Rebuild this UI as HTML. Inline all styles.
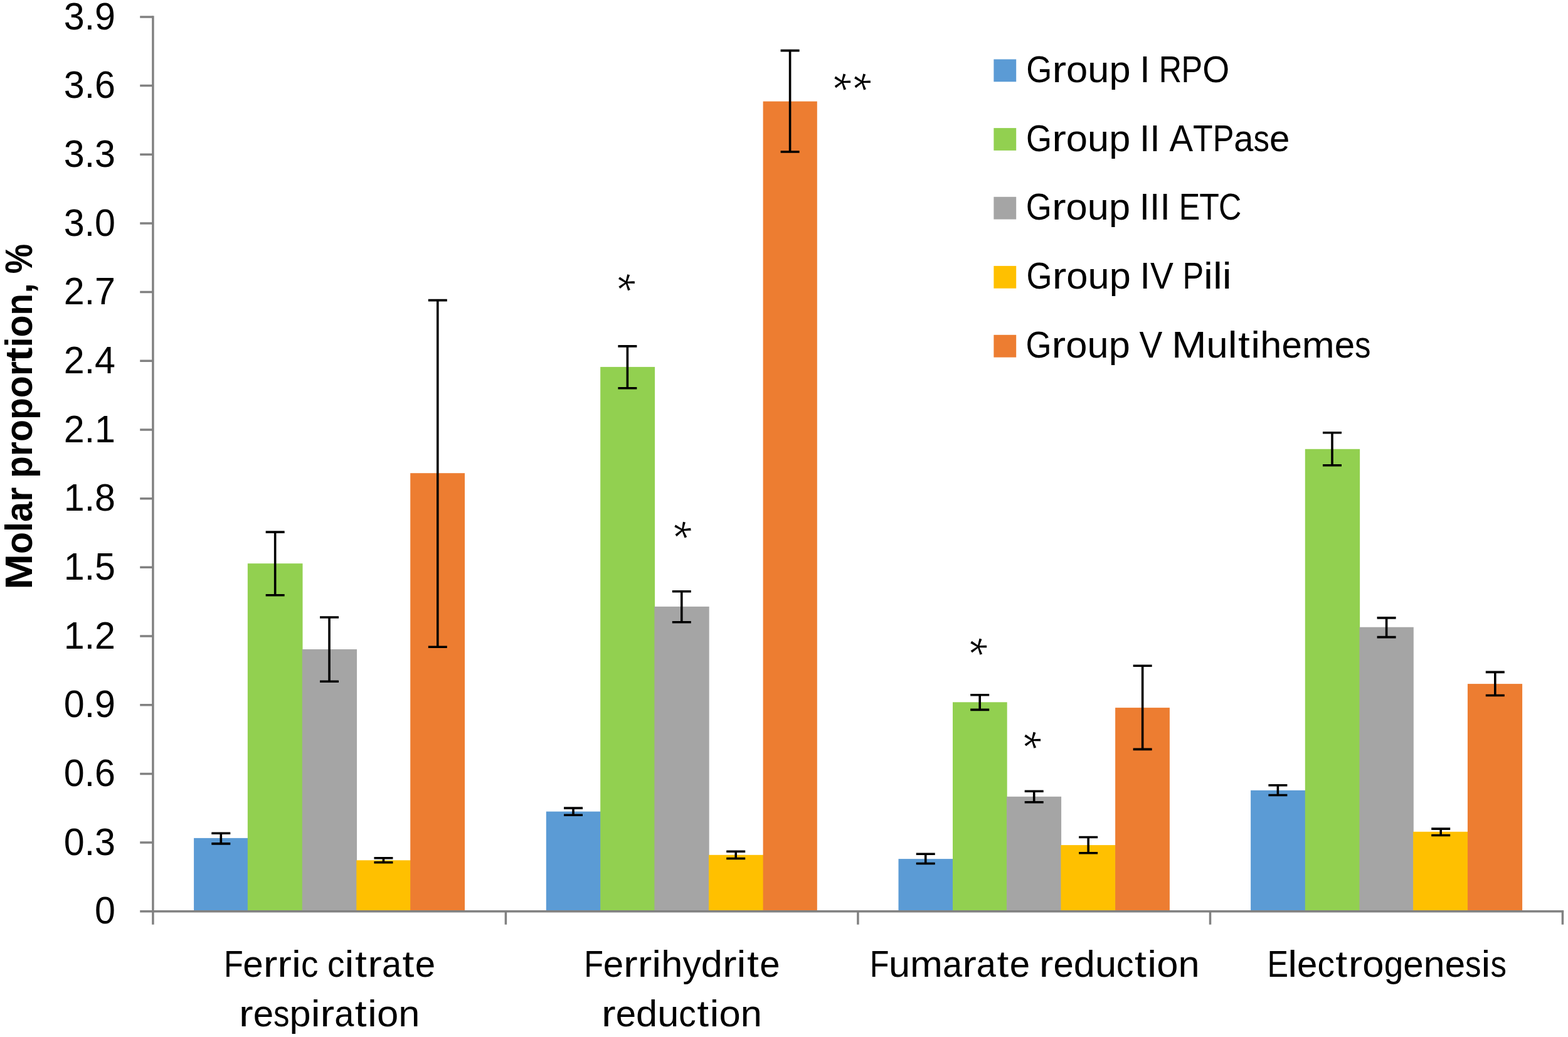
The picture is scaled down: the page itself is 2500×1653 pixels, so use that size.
<!DOCTYPE html>
<html lang="en">
<head>
<meta charset="utf-8">
<title>Molar proportion of protein groups</title>
<style>
html,body{margin:0;padding:0;background:#fff}
body{width:2500px;height:1653px}
svg{display:block}
text{font-family:"Liberation Sans",sans-serif;fill:#000}
.b{font-weight:bold}
.s{stroke:#fff;stroke-width:1.1px;paint-order:fill stroke}
</style>
</head>
<body>
<svg width="2500" height="1653" viewBox="0 0 2500 1653">
<rect width="2500" height="1653" fill="#fff"/>
<g id="bars">
<rect x="309.1" y="1335.9" width="86.45" height="116.85" fill="#5B9BD5"/>
<rect x="394.85" y="898.2" width="87.65" height="554.55" fill="#92D050"/>
<rect x="481.8" y="1035" width="87.2" height="417.75" fill="#A5A5A5"/>
<rect x="568.3" y="1371.3" width="86.6" height="81.45" fill="#FFC000"/>
<rect x="654.2" y="754.2" width="86.8" height="698.55" fill="#ED7D31"/>
<rect x="870.8" y="1293.6" width="87.1" height="159.15" fill="#5B9BD5"/>
<rect x="957.2" y="584.9" width="86.9" height="867.85" fill="#92D050"/>
<rect x="1043.4" y="966.9" width="87.3" height="485.85" fill="#A5A5A5"/>
<rect x="1130" y="1362.8" width="87.3" height="89.95" fill="#FFC000"/>
<rect x="1216.6" y="161.6" width="86.2" height="1291.15" fill="#ED7D31"/>
<rect x="1432.5" y="1369.1" width="87.2" height="83.65" fill="#5B9BD5"/>
<rect x="1519" y="1119.3" width="86.7" height="333.45" fill="#92D050"/>
<rect x="1605" y="1269.8" width="87.1" height="182.95" fill="#A5A5A5"/>
<rect x="1691.4" y="1347.1" width="87.45" height="105.65" fill="#FFC000"/>
<rect x="1778.15" y="1128.1" width="86.75" height="324.65" fill="#ED7D31"/>
<rect x="1994.1" y="1259.8" width="87.4" height="192.95" fill="#5B9BD5"/>
<rect x="2080.8" y="715.8" width="87.35" height="736.95" fill="#92D050"/>
<rect x="2167.45" y="999.7" width="86.35" height="453.05" fill="#A5A5A5"/>
<rect x="2253.1" y="1325.8" width="87.55" height="126.95" fill="#FFC000"/>
<rect x="2339.95" y="1090.1" width="87.15" height="362.65" fill="#ED7D31"/>
</g>
<g id="axes" stroke="#818181" stroke-width="3.5" fill="none">
<path d="M243.9 25.15V1473.8"/>
<path d="M223.2 1452.75H2493.15"/>
<path d="M223.2 26.9H243.9M223.2 136.58H243.9M223.2 246.26H243.9M223.2 355.94H243.9M223.2 465.62H243.9M223.2 575.3H243.9M223.2 684.98H243.9M223.2 794.67H243.9M223.2 904.35H243.9M223.2 1014.03H243.9M223.2 1123.71H243.9M223.2 1233.39H243.9M223.2 1343.07H243.9"/>
<path d="M806.4 1452.75V1473.8M1367.9 1452.75V1473.8M1929.5 1452.75V1473.8M2491.4 1452.75V1473.8"/>
</g>
<g id="errors" stroke="#000" stroke-width="3.6" fill="none">
<path d="M337.29 1328.3H367.29M337.29 1344.9H367.29M352.29 1328.3V1344.9"/>
<path d="M423.67 848.1H453.67M423.67 948.8H453.67M438.67 848.1V948.8"/>
<path d="M510.05 984H540.05M510.05 1086.3H540.05M525.05 984V1086.3"/>
<path d="M596.43 1367.7H626.43M596.43 1374.8H626.43M611.43 1367.7V1374.8"/>
<path d="M682.81 478.6H712.81M682.81 1031.3H712.81M697.81 478.6V1031.3"/>
<path d="M899 1288.1H929M899 1299.2H929M914 1288.1V1299.2"/>
<path d="M985.4 551.9H1015.4M985.4 618.8H1015.4M1000.4 551.9V618.8"/>
<path d="M1071.8 942.7H1101.8M1071.8 991.8H1101.8M1086.8 942.7V991.8"/>
<path d="M1158.2 1357.3H1188.2M1158.2 1368.5H1188.2M1173.2 1357.3V1368.5"/>
<path d="M1244.6 80.6H1274.6M1244.6 242H1274.6M1259.6 80.6V242"/>
<path d="M1460.74 1361.3H1490.74M1460.74 1376.5H1490.74M1475.74 1361.3V1376.5"/>
<path d="M1547.22 1107.8H1577.22M1547.22 1131.4H1577.22M1562.22 1107.8V1131.4"/>
<path d="M1633.7 1261.3H1663.7M1633.7 1278.7H1663.7M1648.7 1261.3V1278.7"/>
<path d="M1720.18 1334.5H1750.18M1720.18 1359.8H1750.18M1735.18 1334.5V1359.8"/>
<path d="M1806.66 1061.2H1836.66M1806.66 1194.4H1836.66M1821.66 1061.2V1194.4"/>
<path d="M2022.4 1251.8H2052.4M2022.4 1267.5H2052.4M2037.4 1251.8V1267.5"/>
<path d="M2109 689.7H2139M2109 741.8H2139M2124 689.7V741.8"/>
<path d="M2195.6 984.9H2225.6M2195.6 1015.6H2225.6M2210.6 984.9V1015.6"/>
<path d="M2282.2 1321.1H2312.2M2282.2 1331.5H2312.2M2297.2 1321.1V1331.5"/>
<path d="M2368.8 1071.4H2398.8M2368.8 1108.5H2398.8M2383.8 1071.4V1108.5"/>
</g>
<g id="legend">
<rect x="1584.4" y="94.5" width="35.8" height="35.8" fill="#5B9BD5"/>
<rect x="1584.4" y="204.1" width="35.8" height="35.8" fill="#92D050"/>
<rect x="1584.4" y="313.8" width="35.8" height="35.8" fill="#A5A5A5"/>
<rect x="1584.4" y="423.9" width="35.8" height="35.8" fill="#FFC000"/>
<rect x="1584.4" y="533.8" width="35.8" height="35.8" fill="#ED7D31"/>
</g>
<g id="labels">
<text y="46.6" font-size="61.5"><tspan x="101.74" textLength="32.95" lengthAdjust="spacingAndGlyphs">3</tspan><tspan x="134.7" textLength="16.38" lengthAdjust="spacingAndGlyphs">.</tspan><tspan x="151.08" textLength="32.95" lengthAdjust="spacingAndGlyphs">9</tspan></text>
<text y="156.28" font-size="61.5"><tspan x="101.74" textLength="32.95" lengthAdjust="spacingAndGlyphs">3</tspan><tspan x="134.7" textLength="16.38" lengthAdjust="spacingAndGlyphs">.</tspan><tspan x="151.08" textLength="32.95" lengthAdjust="spacingAndGlyphs">6</tspan></text>
<text y="265.96" font-size="61.5"><tspan x="101.74" textLength="32.95" lengthAdjust="spacingAndGlyphs">3</tspan><tspan x="134.7" textLength="16.38" lengthAdjust="spacingAndGlyphs">.</tspan><tspan x="151.08" textLength="32.95" lengthAdjust="spacingAndGlyphs">3</tspan></text>
<text y="375.64" font-size="61.5"><tspan x="101.74" textLength="32.95" lengthAdjust="spacingAndGlyphs">3</tspan><tspan x="134.7" textLength="16.38" lengthAdjust="spacingAndGlyphs">.</tspan><tspan x="151.08" textLength="32.95" lengthAdjust="spacingAndGlyphs">0</tspan></text>
<text y="485.32" font-size="61.5"><tspan x="101.74" textLength="32.95" lengthAdjust="spacingAndGlyphs">2</tspan><tspan x="134.7" textLength="16.38" lengthAdjust="spacingAndGlyphs">.</tspan><tspan x="151.08" textLength="32.95" lengthAdjust="spacingAndGlyphs">7</tspan></text>
<text y="595" font-size="61.5"><tspan x="101.74" textLength="32.95" lengthAdjust="spacingAndGlyphs">2</tspan><tspan x="134.7" textLength="16.38" lengthAdjust="spacingAndGlyphs">.</tspan><tspan x="151.08" textLength="32.95" lengthAdjust="spacingAndGlyphs">4</tspan></text>
<text y="704.68" font-size="61.5"><tspan x="101.74" textLength="32.95" lengthAdjust="spacingAndGlyphs">2</tspan><tspan x="134.7" textLength="16.38" lengthAdjust="spacingAndGlyphs">.</tspan><tspan x="151.08" textLength="32.95" lengthAdjust="spacingAndGlyphs">1</tspan></text>
<text y="814.37" font-size="61.5"><tspan x="101.74" textLength="32.95" lengthAdjust="spacingAndGlyphs">1</tspan><tspan x="134.7" textLength="16.38" lengthAdjust="spacingAndGlyphs">.</tspan><tspan x="151.08" textLength="32.95" lengthAdjust="spacingAndGlyphs">8</tspan></text>
<text y="924.05" font-size="61.5"><tspan x="101.74" textLength="32.95" lengthAdjust="spacingAndGlyphs">1</tspan><tspan x="134.7" textLength="16.38" lengthAdjust="spacingAndGlyphs">.</tspan><tspan x="151.08" textLength="32.95" lengthAdjust="spacingAndGlyphs">5</tspan></text>
<text y="1033.73" font-size="61.5"><tspan x="101.74" textLength="32.95" lengthAdjust="spacingAndGlyphs">1</tspan><tspan x="134.7" textLength="16.38" lengthAdjust="spacingAndGlyphs">.</tspan><tspan x="151.08" textLength="32.95" lengthAdjust="spacingAndGlyphs">2</tspan></text>
<text y="1143.41" font-size="61.5"><tspan x="101.74" textLength="32.95" lengthAdjust="spacingAndGlyphs">0</tspan><tspan x="134.7" textLength="16.38" lengthAdjust="spacingAndGlyphs">.</tspan><tspan x="151.08" textLength="32.95" lengthAdjust="spacingAndGlyphs">9</tspan></text>
<text y="1253.09" font-size="61.5"><tspan x="101.74" textLength="32.95" lengthAdjust="spacingAndGlyphs">0</tspan><tspan x="134.7" textLength="16.38" lengthAdjust="spacingAndGlyphs">.</tspan><tspan x="151.08" textLength="32.95" lengthAdjust="spacingAndGlyphs">6</tspan></text>
<text y="1362.77" font-size="61.5"><tspan x="101.74" textLength="32.95" lengthAdjust="spacingAndGlyphs">0</tspan><tspan x="134.7" textLength="16.38" lengthAdjust="spacingAndGlyphs">.</tspan><tspan x="151.08" textLength="32.95" lengthAdjust="spacingAndGlyphs">3</tspan></text>
<text y="1472.45" font-size="61.5"><tspan x="151.08" textLength="32.95" lengthAdjust="spacingAndGlyphs">0</tspan></text>
<text y="131.2" font-size="58.5"><tspan x="1636.34" textLength="41.02" lengthAdjust="spacingAndGlyphs">G</tspan><tspan x="1677.4" textLength="22.6" lengthAdjust="spacingAndGlyphs">r</tspan><tspan x="1700.04" textLength="34.26" lengthAdjust="spacingAndGlyphs">o</tspan><tspan x="1734.3" textLength="34.12" lengthAdjust="spacingAndGlyphs">u</tspan><tspan x="1768.42" textLength="34.12" lengthAdjust="spacingAndGlyphs">p</tspan> <tspan x="1817.24" textLength="16.38" lengthAdjust="spacingAndGlyphs">I</tspan> <tspan x="1847.79" textLength="36.33" lengthAdjust="spacingAndGlyphs">R</tspan><tspan x="1883.6" textLength="33.61" lengthAdjust="spacingAndGlyphs">P</tspan><tspan x="1917.21" textLength="43.03" lengthAdjust="spacingAndGlyphs">O</tspan></text>
<text y="240.5" font-size="58.5"><tspan x="1636.09" textLength="41.02" lengthAdjust="spacingAndGlyphs">G</tspan><tspan x="1677.15" textLength="22.6" lengthAdjust="spacingAndGlyphs">r</tspan><tspan x="1699.79" textLength="34.26" lengthAdjust="spacingAndGlyphs">o</tspan><tspan x="1734.04" textLength="34.12" lengthAdjust="spacingAndGlyphs">u</tspan><tspan x="1768.17" textLength="34.12" lengthAdjust="spacingAndGlyphs">p</tspan> <tspan x="1816.98" textLength="16.38" lengthAdjust="spacingAndGlyphs">I</tspan><tspan x="1833.36" textLength="16.38" lengthAdjust="spacingAndGlyphs">I</tspan> <tspan x="1864.43" textLength="37.63" lengthAdjust="spacingAndGlyphs">A</tspan><tspan x="1902.07" textLength="31.65" lengthAdjust="spacingAndGlyphs">T</tspan><tspan x="1933.72" textLength="33.61" lengthAdjust="spacingAndGlyphs">P</tspan><tspan x="1967.33" textLength="31.13" lengthAdjust="spacingAndGlyphs">a</tspan><tspan x="1998.46" textLength="25.41" lengthAdjust="spacingAndGlyphs">s</tspan><tspan x="2023.88" textLength="32.37" lengthAdjust="spacingAndGlyphs">e</tspan></text>
<text y="350.3" font-size="58.5"><tspan x="1635.87" textLength="41.02" lengthAdjust="spacingAndGlyphs">G</tspan><tspan x="1676.93" textLength="22.6" lengthAdjust="spacingAndGlyphs">r</tspan><tspan x="1699.57" textLength="34.26" lengthAdjust="spacingAndGlyphs">o</tspan><tspan x="1733.82" textLength="34.12" lengthAdjust="spacingAndGlyphs">u</tspan><tspan x="1767.95" textLength="34.12" lengthAdjust="spacingAndGlyphs">p</tspan> <tspan x="1816.76" textLength="16.38" lengthAdjust="spacingAndGlyphs">I</tspan><tspan x="1833.14" textLength="16.38" lengthAdjust="spacingAndGlyphs">I</tspan><tspan x="1849.52" textLength="16.38" lengthAdjust="spacingAndGlyphs">I</tspan> <tspan x="1879.67" textLength="33.56" lengthAdjust="spacingAndGlyphs">E</tspan><tspan x="1912.31" textLength="31.65" lengthAdjust="spacingAndGlyphs">T</tspan><tspan x="1943.12" textLength="36.33" lengthAdjust="spacingAndGlyphs">C</tspan></text>
<text y="460.2" font-size="58.5"><tspan x="1636.61" textLength="41.02" lengthAdjust="spacingAndGlyphs">G</tspan><tspan x="1677.67" textLength="22.6" lengthAdjust="spacingAndGlyphs">r</tspan><tspan x="1700.31" textLength="34.26" lengthAdjust="spacingAndGlyphs">o</tspan><tspan x="1734.56" textLength="34.12" lengthAdjust="spacingAndGlyphs">u</tspan><tspan x="1768.69" textLength="34.12" lengthAdjust="spacingAndGlyphs">p</tspan> <tspan x="1817.5" textLength="16.38" lengthAdjust="spacingAndGlyphs">I</tspan><tspan x="1833.88" textLength="36.85" lengthAdjust="spacingAndGlyphs">V</tspan> <tspan x="1885.43" textLength="33.61" lengthAdjust="spacingAndGlyphs">P</tspan><tspan x="1919.03" textLength="14.89" lengthAdjust="spacingAndGlyphs">i</tspan><tspan x="1933.92" textLength="14.89" lengthAdjust="spacingAndGlyphs">l</tspan><tspan x="1948.8" textLength="14.89" lengthAdjust="spacingAndGlyphs">i</tspan></text>
<text y="570.2" font-size="58.5"><tspan x="1635.58" textLength="41.02" lengthAdjust="spacingAndGlyphs">G</tspan><tspan x="1676.64" textLength="22.6" lengthAdjust="spacingAndGlyphs">r</tspan><tspan x="1699.28" textLength="34.26" lengthAdjust="spacingAndGlyphs">o</tspan><tspan x="1733.54" textLength="34.12" lengthAdjust="spacingAndGlyphs">u</tspan><tspan x="1767.66" textLength="34.12" lengthAdjust="spacingAndGlyphs">p</tspan> <tspan x="1816.48" textLength="36.85" lengthAdjust="spacingAndGlyphs">V</tspan> <tspan x="1868.02" textLength="55.57" lengthAdjust="spacingAndGlyphs">M</tspan><tspan x="1923.6" textLength="34.12" lengthAdjust="spacingAndGlyphs">u</tspan><tspan x="1957.72" textLength="14.89" lengthAdjust="spacingAndGlyphs">l</tspan><tspan x="1974.07" textLength="18.85" lengthAdjust="spacingAndGlyphs">t</tspan><tspan x="1994.38" textLength="14.89" lengthAdjust="spacingAndGlyphs">i</tspan><tspan x="2009.27" textLength="34.12" lengthAdjust="spacingAndGlyphs">h</tspan><tspan x="2043.39" textLength="32.37" lengthAdjust="spacingAndGlyphs">e</tspan><tspan x="2075.76" textLength="51.94" lengthAdjust="spacingAndGlyphs">m</tspan><tspan x="2127.7" textLength="32.37" lengthAdjust="spacingAndGlyphs">e</tspan><tspan x="2160.07" textLength="25.41" lengthAdjust="spacingAndGlyphs">s</tspan></text>
<text y="1556.7" font-size="58.5"><tspan x="357.01" textLength="30.73" lengthAdjust="spacingAndGlyphs">F</tspan><tspan x="387.29" textLength="32.37" lengthAdjust="spacingAndGlyphs">e</tspan><tspan x="419.7" textLength="22.6" lengthAdjust="spacingAndGlyphs">r</tspan><tspan x="442.39" textLength="22.6" lengthAdjust="spacingAndGlyphs">r</tspan><tspan x="465.03" textLength="14.89" lengthAdjust="spacingAndGlyphs">i</tspan><tspan x="479.92" textLength="27.49" lengthAdjust="spacingAndGlyphs">c</tspan> <tspan x="522.1" textLength="27.49" lengthAdjust="spacingAndGlyphs">c</tspan><tspan x="549.6" textLength="14.89" lengthAdjust="spacingAndGlyphs">i</tspan><tspan x="565.94" textLength="18.85" lengthAdjust="spacingAndGlyphs">t</tspan><tspan x="586.3" textLength="22.6" lengthAdjust="spacingAndGlyphs">r</tspan><tspan x="608.94" textLength="31.13" lengthAdjust="spacingAndGlyphs">a</tspan><tspan x="641.54" textLength="18.85" lengthAdjust="spacingAndGlyphs">t</tspan><tspan x="661.85" textLength="32.37" lengthAdjust="spacingAndGlyphs">e</tspan></text>
<text y="1635.8" font-size="58.5"><tspan x="381.1" textLength="22.6" lengthAdjust="spacingAndGlyphs">r</tspan><tspan x="403.75" textLength="32.37" lengthAdjust="spacingAndGlyphs">e</tspan><tspan x="436.12" textLength="25.41" lengthAdjust="spacingAndGlyphs">s</tspan><tspan x="461.53" textLength="34.12" lengthAdjust="spacingAndGlyphs">p</tspan><tspan x="495.66" textLength="14.89" lengthAdjust="spacingAndGlyphs">i</tspan><tspan x="510.58" textLength="22.6" lengthAdjust="spacingAndGlyphs">r</tspan><tspan x="533.23" textLength="31.13" lengthAdjust="spacingAndGlyphs">a</tspan><tspan x="565.82" textLength="18.85" lengthAdjust="spacingAndGlyphs">t</tspan><tspan x="586.14" textLength="14.89" lengthAdjust="spacingAndGlyphs">i</tspan><tspan x="601.02" textLength="34.26" lengthAdjust="spacingAndGlyphs">o</tspan><tspan x="635.28" textLength="34.12" lengthAdjust="spacingAndGlyphs">n</tspan></text>
<text y="1556.7" font-size="58.5"><tspan x="931.36" textLength="30.73" lengthAdjust="spacingAndGlyphs">F</tspan><tspan x="961.64" textLength="32.37" lengthAdjust="spacingAndGlyphs">e</tspan><tspan x="994.05" textLength="22.6" lengthAdjust="spacingAndGlyphs">r</tspan><tspan x="1016.74" textLength="22.6" lengthAdjust="spacingAndGlyphs">r</tspan><tspan x="1039.38" textLength="14.89" lengthAdjust="spacingAndGlyphs">i</tspan><tspan x="1054.26" textLength="34.12" lengthAdjust="spacingAndGlyphs">h</tspan><tspan x="1088.39" textLength="29.44" lengthAdjust="spacingAndGlyphs">y</tspan><tspan x="1117.83" textLength="34.12" lengthAdjust="spacingAndGlyphs">d</tspan><tspan x="1152" textLength="22.6" lengthAdjust="spacingAndGlyphs">r</tspan><tspan x="1174.64" textLength="14.89" lengthAdjust="spacingAndGlyphs">i</tspan><tspan x="1190.99" textLength="18.85" lengthAdjust="spacingAndGlyphs">t</tspan><tspan x="1211.3" textLength="32.37" lengthAdjust="spacingAndGlyphs">e</tspan></text>
<text y="1635.8" font-size="58.5"><tspan x="959.1" textLength="22.6" lengthAdjust="spacingAndGlyphs">r</tspan><tspan x="981.75" textLength="32.37" lengthAdjust="spacingAndGlyphs">e</tspan><tspan x="1014.12" textLength="34.12" lengthAdjust="spacingAndGlyphs">d</tspan><tspan x="1048.24" textLength="34.12" lengthAdjust="spacingAndGlyphs">u</tspan><tspan x="1082.37" textLength="27.49" lengthAdjust="spacingAndGlyphs">c</tspan><tspan x="1111.32" textLength="18.85" lengthAdjust="spacingAndGlyphs">t</tspan><tspan x="1131.64" textLength="14.89" lengthAdjust="spacingAndGlyphs">i</tspan><tspan x="1146.52" textLength="34.26" lengthAdjust="spacingAndGlyphs">o</tspan><tspan x="1180.78" textLength="34.12" lengthAdjust="spacingAndGlyphs">n</tspan></text>
<text y="1556.6" font-size="58.5"><tspan x="1386.67" textLength="30.73" lengthAdjust="spacingAndGlyphs">F</tspan><tspan x="1416.95" textLength="34.12" lengthAdjust="spacingAndGlyphs">u</tspan><tspan x="1451.08" textLength="51.94" lengthAdjust="spacingAndGlyphs">m</tspan><tspan x="1503.01" textLength="31.13" lengthAdjust="spacingAndGlyphs">a</tspan><tspan x="1534.19" textLength="22.6" lengthAdjust="spacingAndGlyphs">r</tspan><tspan x="1556.83" textLength="31.13" lengthAdjust="spacingAndGlyphs">a</tspan><tspan x="1589.43" textLength="18.85" lengthAdjust="spacingAndGlyphs">t</tspan><tspan x="1609.74" textLength="32.37" lengthAdjust="spacingAndGlyphs">e</tspan> <tspan x="1656.85" textLength="22.6" lengthAdjust="spacingAndGlyphs">r</tspan><tspan x="1679.49" textLength="32.37" lengthAdjust="spacingAndGlyphs">e</tspan><tspan x="1711.86" textLength="34.12" lengthAdjust="spacingAndGlyphs">d</tspan><tspan x="1745.98" textLength="34.12" lengthAdjust="spacingAndGlyphs">u</tspan><tspan x="1780.11" textLength="27.49" lengthAdjust="spacingAndGlyphs">c</tspan><tspan x="1809.06" textLength="18.85" lengthAdjust="spacingAndGlyphs">t</tspan><tspan x="1829.38" textLength="14.89" lengthAdjust="spacingAndGlyphs">i</tspan><tspan x="1844.26" textLength="34.26" lengthAdjust="spacingAndGlyphs">o</tspan><tspan x="1878.52" textLength="34.12" lengthAdjust="spacingAndGlyphs">n</tspan></text>
<text y="1556.7" font-size="58.5"><tspan x="2020.53" textLength="33.56" lengthAdjust="spacingAndGlyphs">E</tspan><tspan x="2053.17" textLength="14.89" lengthAdjust="spacingAndGlyphs">l</tspan><tspan x="2068.05" textLength="32.37" lengthAdjust="spacingAndGlyphs">e</tspan><tspan x="2100.42" textLength="27.49" lengthAdjust="spacingAndGlyphs">c</tspan><tspan x="2129.38" textLength="18.85" lengthAdjust="spacingAndGlyphs">t</tspan><tspan x="2149.74" textLength="22.6" lengthAdjust="spacingAndGlyphs">r</tspan><tspan x="2172.38" textLength="34.26" lengthAdjust="spacingAndGlyphs">o</tspan><tspan x="2206.63" textLength="30.61" lengthAdjust="spacingAndGlyphs">g</tspan><tspan x="2237.25" textLength="32.37" lengthAdjust="spacingAndGlyphs">e</tspan><tspan x="2269.62" textLength="34.12" lengthAdjust="spacingAndGlyphs">n</tspan><tspan x="2303.74" textLength="32.37" lengthAdjust="spacingAndGlyphs">e</tspan><tspan x="2336.11" textLength="25.41" lengthAdjust="spacingAndGlyphs">s</tspan><tspan x="2361.53" textLength="14.89" lengthAdjust="spacingAndGlyphs">i</tspan><tspan x="2376.41" textLength="25.41" lengthAdjust="spacingAndGlyphs">s</tspan></text>
<text class="b" transform="translate(50.7 936) rotate(-90)" y="0" font-size="60.5"><tspan x="-3.71" textLength="56.81" lengthAdjust="spacingAndGlyphs">M</tspan><tspan x="53.1" textLength="34.97" lengthAdjust="spacingAndGlyphs">o</tspan><tspan x="88.07" textLength="15.99" lengthAdjust="spacingAndGlyphs">l</tspan><tspan x="104.06" textLength="32.11" lengthAdjust="spacingAndGlyphs">a</tspan><tspan x="136.17" textLength="23.07" lengthAdjust="spacingAndGlyphs">r</tspan> <tspan x="173.94" textLength="34.91" lengthAdjust="spacingAndGlyphs">p</tspan><tspan x="208.84" textLength="23.07" lengthAdjust="spacingAndGlyphs">r</tspan><tspan x="231.92" textLength="34.97" lengthAdjust="spacingAndGlyphs">o</tspan><tspan x="266.89" textLength="34.91" lengthAdjust="spacingAndGlyphs">p</tspan><tspan x="301.79" textLength="34.97" lengthAdjust="spacingAndGlyphs">o</tspan><tspan x="336.76" textLength="23.07" lengthAdjust="spacingAndGlyphs">r</tspan><tspan x="359.84" textLength="22.55" lengthAdjust="spacingAndGlyphs">t</tspan><tspan x="382.39" textLength="15.99" lengthAdjust="spacingAndGlyphs">i</tspan><tspan x="398.38" textLength="34.97" lengthAdjust="spacingAndGlyphs">o</tspan><tspan x="433.35" textLength="34.91" lengthAdjust="spacingAndGlyphs">n</tspan><tspan x="468.26" textLength="16.77" lengthAdjust="spacingAndGlyphs">,</tspan> <tspan x="499.72" textLength="47.38" lengthAdjust="spacingAndGlyphs">%</tspan></text>
<text class="s" x="959" y="436.66" rotate="88" font-size="77">*</text>
<text class="s" x="1047.79" y="833.99" rotate="84" font-size="77">*</text>
<text class="s" x="1303.2 1335.1" y="116.91 116.91" rotate="88 88" font-size="77">**</text>
<text class="s" x="1520.35" y="1017.31" rotate="88" font-size="77">*</text>
<text class="s" x="1606.2" y="1166.21" rotate="88" font-size="77">*</text>
</g>
</svg>
</body>
</html>
